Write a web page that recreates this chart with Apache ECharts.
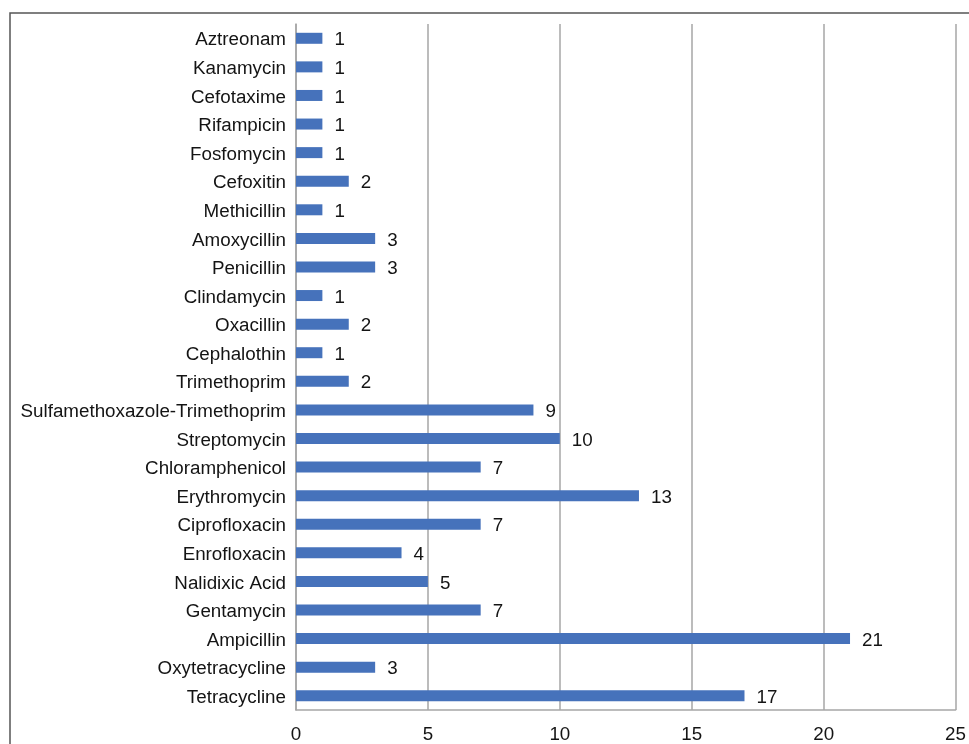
<!DOCTYPE html>
<html>
<head>
<meta charset="utf-8">
<script src="https://cdn.jsdelivr.net/npm/echarts@6/dist/echarts.min.js"></script>
<style>
  html, body { margin: 0; padding: 0; background: #ffffff; }
  #chart { width: 969px; height: 744px; }
</style>
</head>
<body>
<div id="chart"></div>
<script>
// Antibiotics, listed top to bottom as drawn
const antibiotics = [
  'Aztreonam', 'Kanamycin', 'Cefotaxime', 'Rifampicin', 'Fosfomycin',
  'Cefoxitin', 'Methicillin', 'Amoxycillin', 'Penicillin', 'Clindamycin',
  'Oxacillin', 'Cephalothin', 'Trimethoprim', 'Sulfamethoxazole-Trimethoprim',
  'Streptomycin', 'Chloramphenicol', 'Erythromycin', 'Ciprofloxacin',
  'Enrofloxacin', 'Nalidixic Acid', 'Gentamycin', 'Ampicillin',
  'Oxytetracycline', 'Tetracycline'
];

// Count for each antibiotic, same order
const counts = [
  1, 1, 1, 1, 1,
  2, 1, 3, 3, 1,
  2, 1, 2, 9,
  10, 7, 13, 7,
  4, 5, 7, 21,
  3, 17
];

// Value axis range
const axisMin = 0;
const axisMax = 25;
const axisStep = 5;

const FONT = 'Liberation Sans, Arial, sans-serif';
const FONT_SIZE = 18.8;
const TEXT = '#141414';
const GRID = '#a6a6a6';

const chart = echarts.init(document.getElementById('chart'), null, { renderer: 'canvas' });

chart.setOption({
  backgroundColor: '#ffffff',
  animation: false,
  graphic: [{
    type: 'rect',
    silent: true,
    shape: { x: 10, y: 13, width: 1200, height: 1200 },
    style: { fill: 'none', stroke: '#555555', lineWidth: 1.5 }
  }],
  grid: { left: 296, right: 12, top: 24, bottom: 32, containLabel: false },
  xAxis: {
    type: 'value',
    min: axisMin,
    max: axisMax,
    interval: axisStep,
    axisLine: { show: true, lineStyle: { color: GRID, width: 1.5 } },
    axisTick: { show: false },
    axisLabel: { color: TEXT, fontFamily: FONT, fontSize: FONT_SIZE, margin: 15 },
    splitLine: { show: true, lineStyle: { color: GRID, width: 1.5 } }
  },
  yAxis: {
    type: 'category',
    inverse: true,
    data: antibiotics,
    axisLine: { show: true, lineStyle: { color: GRID, width: 1.5 } },
    axisTick: { show: false },
    axisLabel: {
      color: TEXT, fontFamily: FONT, fontSize: FONT_SIZE, margin: 10, interval: 0,
      formatter: (name) => '{n|' + name + '}',
      rich: {
        n: { color: TEXT, fontFamily: FONT, fontSize: FONT_SIZE, padding: [4, 0, 0, 0] }
      }
    },
    splitLine: { show: false }
  },
  series: [{
    type: 'bar',
    data: counts,
    barWidth: 11,
    itemStyle: { color: '#4672bb' },
    label: {
      show: true,
      position: 'right',
      distance: 12,
      offset: [0, 2],
      color: TEXT,
      fontFamily: FONT,
      fontSize: FONT_SIZE
    }
  }]
});
</script>
</body>
</html>
